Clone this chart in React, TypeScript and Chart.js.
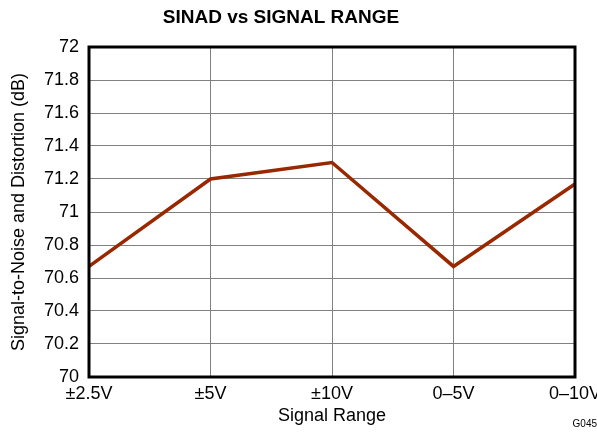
import React, { useEffect, useRef } from "react";
import { Chart, registerables } from "chart.js";

Chart.register(...registerables);

const signalRanges = ["±2.5V", "±5V", "±10V", "0–5V", "0–10V"];
const sinadDb = [70.67, 71.2, 71.3, 70.67, 71.17];
const yMin = 70;
const yMax = 72;
const yStep = 0.2;

const FONT = "'Liberation Sans', Arial, sans-serif";

// Frame around the plot, the chart heading and the figure code.
const decorPlugin = {
  id: "decor",
  afterDraw(chart: any) {
    const { ctx, chartArea } = chart;
    ctx.save();
    ctx.strokeStyle = "#000";
    ctx.lineWidth = 3;
    ctx.strokeRect(
      chartArea.left,
      chartArea.top,
      chartArea.right - chartArea.left,
      chartArea.bottom - chartArea.top
    );
    ctx.fillStyle = "#000";
    ctx.font = `bold 19px ${FONT}`;
    ctx.textAlign = "center";
    ctx.textBaseline = "middle";
    ctx.fillText("SINAD vs SIGNAL RANGE", 281, 18);
    ctx.font = `10px ${FONT}`;
    ctx.textAlign = "right";
    ctx.fillText("G045", 597, 424);
    ctx.restore();
  },
};

export default function App() {
  const canvasRef = useRef<HTMLCanvasElement | null>(null);

  useEffect(() => {
    if (!canvasRef.current) return;
    Chart.defaults.font.family = FONT;
    Chart.defaults.color = "#000";
    const chart = new Chart(canvasRef.current, {
      type: "line",
      data: {
        labels: signalRanges,
        datasets: [
          {
            data: sinadDb,
            borderColor: "#992800",
            borderWidth: 3.5,
            pointRadius: 0,
            tension: 0,
            fill: false,
          },
        ],
      },
      options: {
        animation: false,
        responsive: false,
        layout: { padding: { top: 47, right: 22, left: 0, bottom: 0 } },
        plugins: {
          legend: { display: false },
          title: { display: false },
          tooltip: { enabled: false },
        },
        scales: {
          x: {
            type: "category",
            offset: false,
            grid: { color: "#808080", lineWidth: 1, drawTicks: false },
            border: { display: false },
            ticks: {
              font: { size: 18 },
              color: "#000",
              padding: 6,
              maxRotation: 0,
              autoSkip: false,
            },
            title: {
              display: true,
              text: "Signal Range",
              font: { size: 18 },
              color: "#000",
              padding: { top: 0, bottom: 7 },
            },
            afterFit(scale: any) {
              scale.height = 57;
              scale.paddingLeft = 0;
              scale.paddingRight = 0;
            },
          },
          y: {
            min: yMin,
            max: yMax,
            grid: { color: "#808080", lineWidth: 1, drawTicks: false },
            border: { display: false },
            ticks: {
              stepSize: yStep,
              font: { size: 18 },
              color: "#000",
              padding: 10,
              callback: (v: any) => String(Number(Number(v).toFixed(1))),
            },
            title: {
              display: true,
              text: "Signal-to-Noise and Distortion (dB)",
              font: { size: 18 },
              color: "#000",
              padding: { top: 8, bottom: 0 },
            },
            afterFit(scale: any) {
              scale.width = 89;
              scale.paddingTop = 0;
              scale.paddingBottom = 0;
            },
          },
        },
      },
      plugins: [decorPlugin],
    } as any);
    return () => chart.destroy();
  }, []);

  return (
    <div style={{ position: "fixed", left: 0, top: 0, width: 597, height: 434, background: "#fff" }}>
      <canvas ref={canvasRef} width={597} height={434} style={{ display: "block" }} />
    </div>
  );
}
